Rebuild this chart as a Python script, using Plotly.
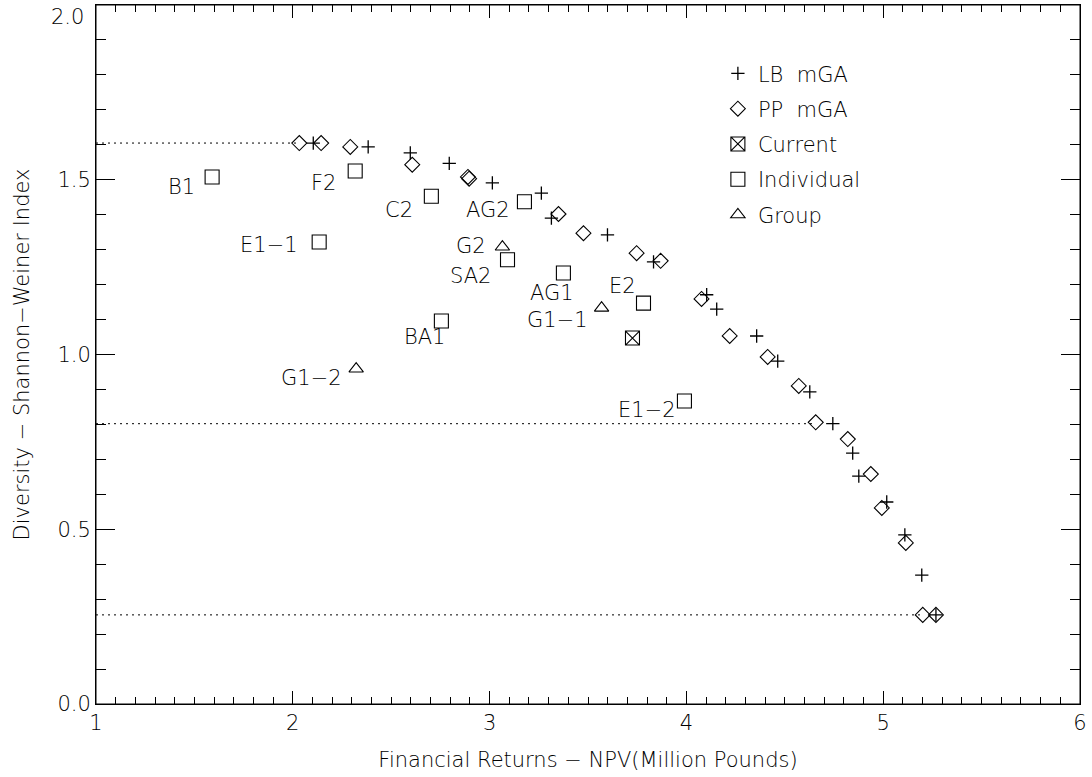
import plotly.graph_objects as go

# ---------------- data ----------------
lb_x = [2.104, 2.383, 2.597, 2.795, 3.014, 3.263, 3.314, 3.599, 3.833, 4.103,
        4.154, 4.357, 4.464, 4.627, 4.744, 4.845, 4.876, 5.018, 5.110, 5.196, 5.268]
lb_y = [1.605, 1.594, 1.577, 1.547, 1.491, 1.462, 1.390, 1.342, 1.265, 1.171,
        1.130, 1.053, 0.981, 0.893, 0.802, 0.718, 0.652, 0.578, 0.484, 0.369, 0.255]

pp_x = [2.033, 2.144, 2.292, 2.607, 2.890, 2.896, 3.350, 3.477, 3.747, 3.869,
        4.077, 4.220, 4.413, 4.571, 4.657, 4.820, 4.937, 4.993, 5.115, 5.201, 5.268]
pp_y = [1.605, 1.605, 1.594, 1.543, 1.508, 1.503, 1.402, 1.347, 1.290, 1.268,
        1.159, 1.053, 0.993, 0.910, 0.806, 0.758, 0.658, 0.561, 0.461, 0.255, 0.255]

current_x = [3.726]
current_y = [1.047]

ind_names = ["B1", "F2", "E1\u22121", "C2", "AG2", "SA2", "AG1", "E2", "BA1", "E1\u22122"]
ind_x = [1.590, 2.317, 2.134, 2.704, 3.177, 3.091, 3.375, 3.782, 2.755, 3.990]
ind_y = [1.508, 1.525, 1.322, 1.453, 1.437, 1.271, 1.233, 1.147, 1.096, 0.867]

grp_names = ["G2", "G1\u22121", "G1\u22122"]
grp_x = [3.065, 3.569, 2.322]
grp_y = [1.308, 1.133, 0.959]

# dotted guide lines: level and the x where they end
guide_y = [1.605, 0.802, 0.255]
guide_x_end = [2.033, 4.657, 5.201]

y_tickvals = [0.0, 0.5, 1.0, 1.5, 2.0]
y_ticktext = ["0.0", "0.5", "1.0", "1.5", "2.0"]

x_title = "Financial Returns \u2212 NPV(Million Pounds)"
y_title = "Diversity \u2212 Shannon\u2212Weiner Index"

# ---------------- styling ----------------
FONT = "DejaVu Sans"
W = 200
INK = "#000000"


def fnt(size=21):
    return dict(family=FONT, size=size, color=INK, weight=W)


# label offsets (pixels) relative to their marker
ind_offsets = {"B1": (-31, -10), "F2": (-32, -12), "E1\u22121": (-50, -3),
               "C2": (-32, -14), "AG2": (-36, -8), "SA2": (-37, -16),
               "AG1": (-11, -20), "E2": (-21, 17), "BA1": (-17, -16),
               "E1\u22122": (-37, -9)}
grp_offsets = {"G2": (-31, 1), "G1\u22121": (-44, -12), "G1\u22122": (-45, -9)}

fig = go.Figure()

for gy, gx in zip(guide_y, guide_x_end):
    fig.add_trace(go.Scatter(x=[1, gx], y=[gy, gy], mode="lines",
                             line=dict(color=INK, width=1, dash="2px,4px"),
                             showlegend=False, hoverinfo="skip"))

fig.add_trace(go.Scatter(x=lb_x, y=lb_y, mode="markers", name="LB  mGA", legendgroup="a",
                         marker=dict(symbol="cross-thin-open", size=9.5,
                                     line=dict(color=INK, width=1.3), color=INK)))
fig.add_trace(go.Scatter(x=pp_x, y=pp_y, mode="markers", name="PP  mGA", legendgroup="b",
                         marker=dict(symbol="diamond-open", size=11.5,
                                     line=dict(color=INK, width=1.1), color=INK)))
fig.add_trace(go.Scatter(x=current_x, y=current_y, mode="markers", name="Current", legendgroup="c",
                         marker=dict(symbol="square-x-open", size=14,
                                     line=dict(color=INK, width=1.1), color=INK)))
fig.add_trace(go.Scatter(x=ind_x, y=ind_y, mode="markers", name="Individual", legendgroup="d",
                         marker=dict(symbol="square-open", size=14,
                                     line=dict(color=INK, width=1.1), color=INK)))
fig.add_trace(go.Scatter(x=grp_x, y=grp_y, mode="markers", name="Group", legendgroup="e",
                         marker=dict(symbol="triangle-up-open", size=12.5,
                                     line=dict(color=INK, width=1.1), color=INK)))

annotations = []
for n, x, y in zip(ind_names, ind_x, ind_y):
    dx, dy = ind_offsets[n]
    annotations.append(dict(x=x, y=y, text=n, showarrow=False, xshift=dx, yshift=dy,
                            font=fnt()))
for n, x, y in zip(grp_names, grp_x, grp_y):
    dx, dy = grp_offsets[n]
    annotations.append(dict(x=x, y=y, text=n, showarrow=False, xshift=dx, yshift=dy,
                            font=fnt()))

# the top y label sits just below its tick, kept inside the page
annotations.append(dict(x=0, xref="paper", y=y_tickvals[-1], yref="y", text=y_ticktext[-1],
                        showarrow=False, xanchor="right", xshift=-10, yshift=-12,
                        font=fnt()))

axis_common = dict(showline=True, linecolor=INK, linewidth=1, mirror="ticks",
                   ticks="inside", tickcolor=INK, tickwidth=1, showgrid=False,
                   zeroline=False, tickfont=fnt(), automargin=False,
                   ticklabeloverflow="allow")

fig.update_layout(
    width=1092, height=777,
    margin=dict(l=96, r=12, t=5, b=73),
    paper_bgcolor="white", plot_bgcolor="white",
    font=fnt(),
    xaxis=dict(range=[1, 6], dtick=1, tick0=1, ticklen=13,
               tickformat="d",
               minor=dict(dtick=0.1, ticks="inside", ticklen=7, tickcolor=INK, tickwidth=1),
               title=dict(text=x_title, font=fnt(), standoff=18),
               **axis_common),
    yaxis=dict(range=[0, 2], tickmode="array", tickvals=y_tickvals,
               ticktext=y_ticktext[:-1] + [""], ticklen=19,
               minor=dict(dtick=0.1, tick0=0, ticks="inside", ticklen=10, tickcolor=INK, tickwidth=1),
               title=dict(text=y_title, font=fnt(), standoff=22),
               **axis_common),
    legend=dict(x=0.632, y=0.931, xanchor="left", yanchor="top", bgcolor="rgba(0,0,0,0)",
                font=fnt(), tracegroupgap=5, itemwidth=30),
    annotations=annotations,
    shapes=[dict(type="rect", xref="paper", yref="paper", x0=0, x1=1, y0=0, y1=1,
                 line=dict(color=INK, width=1), layer="above")],
    showlegend=True,
)

# remove the default page margin so the figure fills the window exactly
fig.write_html("out.html", config={"displayModeBar": False},
               post_script="document.body.style.margin='0px';")
